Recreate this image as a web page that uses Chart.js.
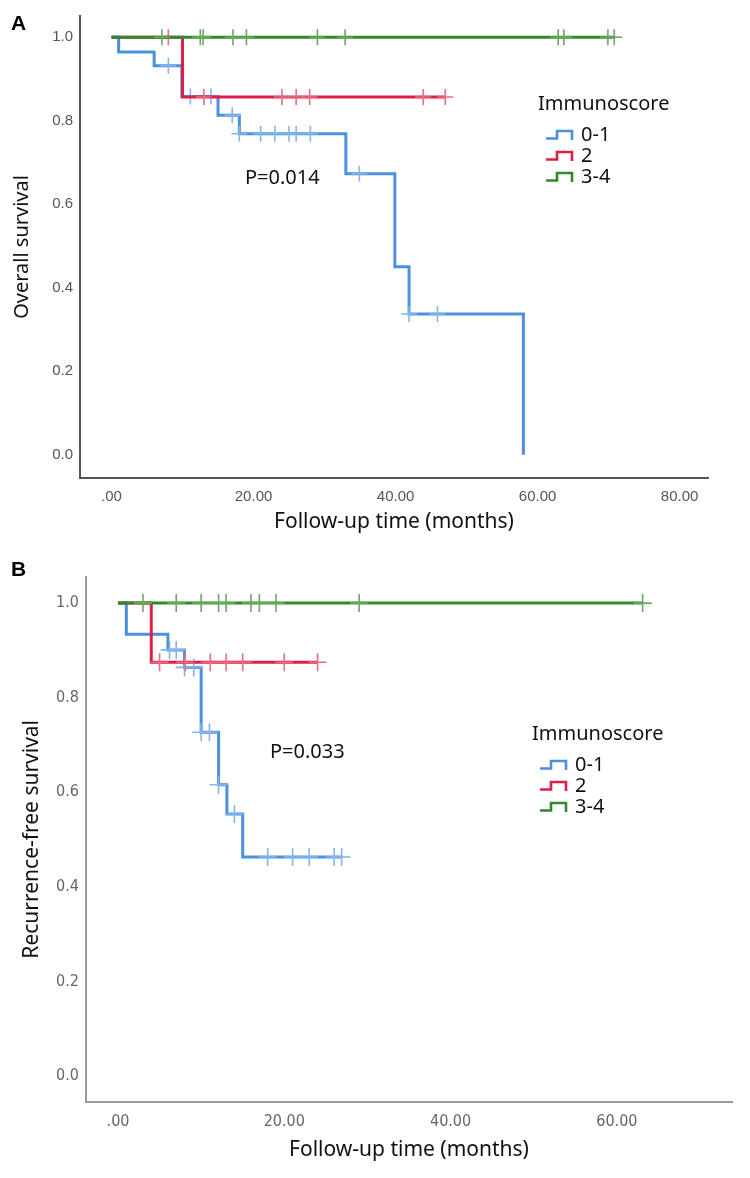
<!DOCTYPE html>
<html>
<head>
<meta charset="utf-8">
<script src="https://cdn.jsdelivr.net/npm/chart.js@4.4.1/dist/chart.umd.min.js"></script>
<style>
  body { margin: 0; background: #fff; width: 750px; height: 1178px; position: relative; overflow: hidden; font-family: "Noto Sans", sans-serif; }
  .panel { position: absolute; left: 0; }
  .txt { position: absolute; white-space: nowrap; transform: translateY(-50%); line-height: 1; color: #111; }
  .letter { font-family: "Liberation Sans", Arial, sans-serif; font-weight: bold; font-size: 21px; color: #000; }
  .big { font-size: 20px; }
  .key { position: absolute; }
</style>
</head>
<body>
<div class="panel" style="top:0"><canvas id="os" width="750" height="560"></canvas></div>
<div class="panel" style="top:560px"><canvas id="rfs" width="750" height="618"></canvas></div>

<div class="txt letter" style="left:11px;top:22px">A</div>
<div class="txt letter" style="left:11px;top:568px">B</div>
<div class="txt big" style="left:245px;top:177px">P=0.014</div>
<div class="txt big" style="left:270px;top:751px">P=0.033</div>
<div id="legendA"></div>
<div id="legendB"></div>

<script>
const scoreGroups = ['0-1', '2', '3-4'];
const groupColors = ['#4a8fe0', '#dc1f47', '#2f8a2b'];
const censorColors = ['#86b5ee', '#ea6b85', '#69a962'];

// panel A - overall survival (event times / survival after each step)
const osLowTimes = [0, 1.0, 6.0, 9.9, 15.0, 18.0, 33.0, 39.9, 41.9, 58.0];
const osLowSurv = [1, 0.965, 0.932, 0.858, 0.813, 0.769, 0.673, 0.450, 0.337, 0];
const osLowCensored = [8.0, 11.1, 14.0, 17.0, 18.0, 21.0, 23.0, 25.0, 26.0, 28.0, 34.9, 41.9, 45.9];
const osMidTimes = [0, 10.0, 47.0];
const osMidSurv = [1, 0.857, 0.857];
const osMidCensored = [8.0, 13.0, 24.0, 26.0, 27.9, 43.9, 47.0];
const osHighTimes = [0, 70.8];
const osHighSurv = [1, 1];
const osHighCensored = [7.1, 12.5, 12.9, 17.1, 19.0, 29.0, 32.9, 62.9, 63.7, 69.9, 70.8];

// panel B - recurrence-free survival
const rfsLowTimes = [0, 1.0, 6.0, 8.0, 10.0, 12.1, 13.1, 15.0, 26.9];
const rfsLowSurv = [1, 0.934, 0.901, 0.864, 0.727, 0.616, 0.554, 0.463, 0.463];
const rfsLowCensored = [6.2, 7.0, 8.0, 9.1, 10.0, 11.0, 12.1, 14.0, 18.0, 21.0, 23.0, 26.0, 26.9];
const rfsMidTimes = [0, 4.0, 24.0];
const rfsMidSurv = [1, 0.875, 0.875];
const rfsMidCensored = [5.0, 8.1, 11.1, 13.0, 15.0, 20.0, 24.0];
const rfsHighTimes = [0, 63.1];
const rfsHighSurv = [1, 1];
const rfsHighCensored = [3.0, 7.0, 10.0, 12.1, 13.0, 16.0, 17.0, 19.0, 29.0, 63.1];

// axis ticks
const osXTicks = [0, 20, 40, 60, 80];
const osXLabels = ['.00', '20.00', '40.00', '60.00', '80.00'];
const rfsXTicks = [0, 20, 40, 60];
const rfsXLabels = ['.00', '20.00', '40.00', '60.00'];
const yTicks = [0, 0.2, 0.4, 0.6, 0.8, 1.0];
const yLabels = ['0.0', '0.2', '0.4', '0.6', '0.8', '1.0'];

function levelAt(times, surv, t) {
  let s = surv[0];
  for (let i = 0; i < times.length; i++) if (times[i] <= t) s = surv[i];
  return s;
}

function groupSets(groups, lw, tickR) {
  const sets = [];
  // highest score first so green sits on top, as in the figure
  for (let g = groups.length - 1; g >= 0; g--) {
    const [times, surv, cens] = groups[g];
    sets.push({
      data: cens.map(t => ({ x: t, y: levelAt(times, surv, t) })),
      showLine: false,
      pointStyle: 'cross',
      pointRadius: tickR,
      pointBorderWidth: 1.6,
      pointBorderColor: censorColors[g],
      pointHoverRadius: tickR
    });
    sets.push({
      label: scoreGroups[g],
      data: times.map((t, i) => ({ x: t, y: surv[i] })),
      stepped: 'before',
      borderColor: groupColors[g],
      borderWidth: lw,
      pointRadius: 0,
      fill: false,
      tension: 0
    });
  }
  return sets;
}

function kmChart(id, o) {
  return new Chart(document.getElementById(id), {
    type: 'line',
    data: { datasets: groupSets(o.groups, o.lineWidth, o.tickR) },
    options: {
      responsive: false,
      animation: false,
      devicePixelRatio: 1,
      layout: { padding: o.padding },
      plugins: { legend: { display: false }, tooltip: { enabled: false } },
      scales: {
        x: {
          type: 'linear', min: o.xMin, max: o.xMax,
          afterBuildTicks: s => { s.ticks = o.xTicks.map(v => ({ value: v })); },
          afterFit: s => { s.height = o.xHeight; },
          grid: { drawOnChartArea: false, drawTicks: false },
          border: { color: o.axisColor, width: o.axisWidth },
          ticks: { autoSkip: false, maxRotation: 0, padding: o.xTickPad, color: o.tickColor, font: o.tickFont,
                   callback: (v, i) => o.xLabels[i] },
          title: { display: true, text: 'Follow-up time (months)', color: '#111',
                   font: { family: 'Noto Sans', size: 21 }, padding: { top: 0, bottom: o.xTitlePad } }
        },
        y: {
          type: 'linear', min: o.yMin, max: o.yMax,
          afterBuildTicks: s => { s.ticks = yTicks.map(v => ({ value: v })); },
          afterFit: s => { s.width = o.yWidth; },
          grid: { drawOnChartArea: false, drawTicks: false },
          border: { color: o.axisColor, width: o.axisWidth },
          ticks: { autoSkip: false, padding: 7, color: o.tickColor, font: o.tickFont,
                   callback: (v, i) => yLabels[i] },
          title: { display: true, text: o.yTitle, color: '#111',
                   font: { family: 'Noto Sans', size: o.yTitleSize }, padding: { top: o.yTitlePad, bottom: 0 } }
        }
      }
    }
  });
}

kmChart('os', {
  groups: [[osLowTimes, osLowSurv, osLowCensored], [osMidTimes, osMidSurv, osMidCensored], [osHighTimes, osHighSurv, osHighCensored]],
  lineWidth: 3, tickR: 8,
  padding: { left: 0, top: 12, right: 42, bottom: 0 },
  xMin: -4.44, xMax: 84.0, yMin: -0.056, yMax: 1.051,
  xTicks: osXTicks, xLabels: osXLabels,
  xHeight: 82, yWidth: 80, xTickPad: 10, xTitlePad: 25, yTitlePad: 10, yTitleSize: 20,
  axisColor: '#555', axisWidth: 2, tickColor: '#555',
  tickFont: { family: 'Liberation Sans', size: 15 },
  yTitle: 'Overall survival'
});

kmChart('rfs', {
  groups: [[rfsLowTimes, rfsLowSurv, rfsLowCensored], [rfsMidTimes, rfsMidSurv, rfsMidCensored], [rfsHighTimes, rfsHighSurv, rfsHighCensored]],
  lineWidth: 3, tickR: 9,
  padding: { left: 0, top: 13, right: 18, bottom: 0 },
  xMin: -3.85, xMax: 73.85, yMin: -0.055, yMax: 1.056,
  xTicks: rfsXTicks, xLabels: rfsXLabels,
  xHeight: 76, yWidth: 86, xTickPad: 10, xTitlePad: 15, yTitlePad: 19, yTitleSize: 21,
  axisColor: '#999', axisWidth: 2, tickColor: '#666',
  tickFont: { family: "'DejaVu Sans Condensed', 'Liberation Sans', sans-serif", size: 16 },
  yTitle: 'Recurrence-free survival'
});

// legends: step icon + label, as SPSS draws them
function legend(hostId, left, titleY, firstY, gap) {
  const host = document.getElementById(hostId);
  let html = `<div class="txt big" style="left:${left}px;top:${titleY}px">Immunoscore</div>`;
  scoreGroups.forEach((name, i) => {
    const y = firstY + i * gap;
    html += `<svg class="key" width="30" height="12" style="left:${left + 7}px;top:${y - 5}px">
      <path d="M1 9.5 H12 V2 H27 V11" fill="none" stroke="${groupColors[i]}" stroke-width="2.6"/></svg>`;
    html += `<div class="txt big" style="left:${left + 43}px;top:${y}px">${name}</div>`;
  });
  host.innerHTML = html;
}
legend('legendA', 538, 103, 134, 21);
legend('legendB', 532, 733, 764, 21);
</script>
</body>
</html>
